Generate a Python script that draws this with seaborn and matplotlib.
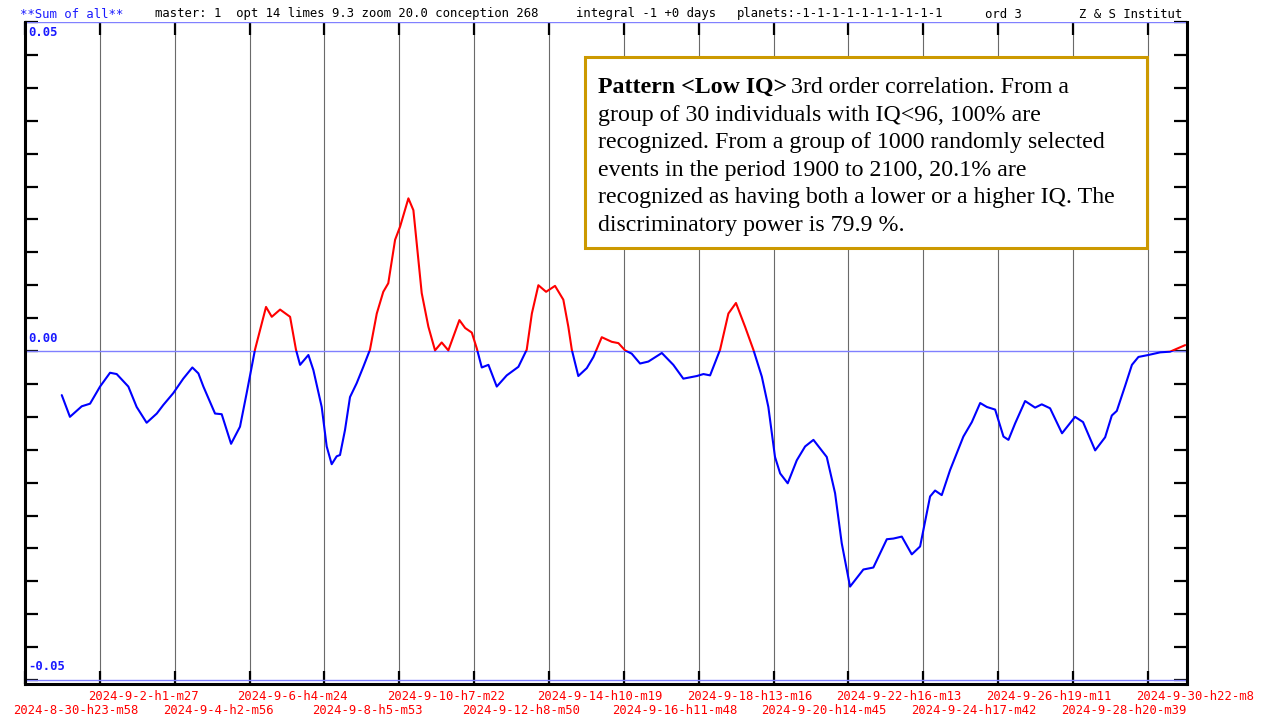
import seaborn as sns
import matplotlib.pyplot as plt
from matplotlib.patches import Rectangle
from datetime import datetime
import numpy as np

# curve: hours after 2024-8-30 23:58, value
hours = [24.3, 29.7, 37.5, 43.0, 49.6, 56.2, 60.6, 68.3, 73.8, 80.4,
         87.1, 91.4, 98.0, 104.6, 110.6, 114.6, 117.9, 125.6, 130.0, 133.3,
         136.2, 142.1, 146.5, 152.0, 159.3, 163.1, 168.6, 175.2, 179.1, 181.8,
         187.3, 190.6, 196.1, 199.4, 202.7, 206.0, 208.2, 211.5, 214.8, 219.2,
         223.6, 228.0, 232.5, 236.8, 240.1, 244.6, 247.9, 253.4, 256.7, 262.2,
         266.6, 271.0, 275.4, 279.8, 283.1, 287.1, 290.9, 295.3, 298.6, 301.9,
         306.3, 311.8, 318.4, 326.1, 331.6, 335.0, 339.3, 344.4, 350.3, 355.8,
         359.1, 361.4, 365.7, 371.3, 375.7, 381.2, 387.8, 392.2, 396.6, 401.0,
         406.5, 412.0, 420.9, 428.5, 435.1, 444.0, 448.4, 452.8, 459.4, 464.9,
         469.9, 475.9, 481.4, 487.0, 491.3, 495.7, 499.1, 504.1, 510.1, 515.6,
         521.1, 529.9, 535.4, 539.8, 545.3, 554.1, 560.7, 569.6, 573.9, 579.5,
         586.1, 591.6, 598.2, 601.5, 605.9, 611.4, 620.2, 625.8, 631.3, 635.7,
         641.2, 646.7, 650.0, 654.4, 661.0, 667.6, 672.0, 677.5, 685.4, 694.0,
         699.3, 707.3, 713.9, 718.3, 721.6, 727.1, 731.6, 735.9, 742.5, 750.3,
         756.8, 766.8]
values = [-0.0067, -0.0100, -0.0084, -0.0080, -0.0054, -0.0033, -0.0035, -0.0054, -0.0085, -0.0109,
          -0.0095, -0.0082, -0.0064, -0.0042, -0.0025, -0.0034, -0.0054, -0.0095, -0.0096, -0.0120,
          -0.0141, -0.0115, -0.0064, 0.0002, 0.0067, 0.0052, 0.0063, 0.0052, 0.0002, -0.0021,
          -0.0006, -0.0029, -0.0085, -0.0145, -0.0172, -0.0160, -0.0158, -0.0120, -0.0070, -0.0049,
          -0.0024, 0.0002, 0.0057, 0.0090, 0.0103, 0.0169, 0.0189, 0.0232, 0.0214, 0.0088,
          0.0037, 0.0001, 0.0013, 0.0001, 0.0022, 0.0047, 0.0035, 0.0028, 0.0004, -0.0025,
          -0.0021, -0.0054, -0.0037, -0.0024, 0.0002, 0.0057, 0.0100, 0.0090, 0.0099, 0.0078,
          0.0037, 0.0002, -0.0038, -0.0026, -0.0009, 0.0021, 0.0014, 0.0012, 0.0001, -0.0004,
          -0.0019, -0.0016, -0.0003, -0.0021, -0.0042, -0.0038, -0.0035, -0.0037, 0.0002, 0.0057,
          0.0073, 0.0037, 0.0002, -0.0039, -0.0085, -0.0161, -0.0186, -0.0201, -0.0166, -0.0145,
          -0.0135, -0.0161, -0.0216, -0.0292, -0.0358, -0.0332, -0.0329, -0.0286, -0.0285, -0.0282,
          -0.0309, -0.0297, -0.0221, -0.0212, -0.0219, -0.0181, -0.0130, -0.0108, -0.0079, -0.0085,
          -0.0089, -0.0130, -0.0135, -0.0110, -0.0076, -0.0086, -0.0081, -0.0087, -0.0125, -0.0100,
          -0.0108, -0.0151, -0.0131, -0.0098, -0.0091, -0.0053, -0.0021, -0.0009, -0.0006, -0.0002,
          -0.0001, 0.0009]

tick_labels = ['2024-8-30-h23-m58', '2024-9-2-h1-m27', '2024-9-4-h2-m56', '2024-9-6-h4-m24',
               '2024-9-8-h5-m53', '2024-9-10-h7-m22', '2024-9-12-h8-m50', '2024-9-14-h10-m19',
               '2024-9-16-h11-m48', '2024-9-18-h13-m16', '2024-9-20-h14-m45', '2024-9-22-h16-m13',
               '2024-9-24-h17-m42', '2024-9-26-h19-m11', '2024-9-28-h20-m39', '2024-9-30-h22-m8']

header = [(20, '**Sum of all**', '#1a1aff'),
          (155, 'master: 1  opt 14 limes 9.3 zoom 20.0 conception 268', 'black'),
          (576, 'integral -1 +0 days', 'black'),
          (737, 'planets:-1-1-1-1-1-1-1-1-1-1', 'black'),
          (985, 'ord 3', 'black'),
          (1079, 'Z & S Institut', 'black')]

note_bold = 'Pattern <Low IQ>'
note_lines = ['3rd order correlation. From a',
              'group of 30 individuals with IQ<96, 100% are',
              'recognized. From a group of 1000 randomly selected',
              'events in the period 1900 to 2100, 20.1% are',
              'recognized as having both a lower or a higher IQ. The',
              'discriminatory power is 79.9 %.']


def to_hours(lbl):
    y, m, d, h, mi = lbl.split('-')
    t = datetime(int(y), int(m), int(d), int(h[1:]), int(mi[1:]))
    return (t - datetime(2024, 8, 30, 23, 58)).total_seconds() / 3600.0


tick_pos = [to_hours(l) for l in tick_labels]

sns.set_style('white')
mono = 'DejaVu Sans Mono'
W, H = 1262, 720

fig = plt.figure(figsize=(W / 100, H / 100), dpi=100)
ax = fig.add_axes([25 / W, 36 / H, 1162 / W, 662 / H])

sns.lineplot(x=hours, y=values, ax=ax, color='#ff0000', lw=1.5, sort=False, estimator=None, zorder=3)
sns.lineplot(x=hours, y=values, ax=ax, color='#0000ff', lw=1.5, sort=False, estimator=None, zorder=3)
red, blue = ax.lines[0], ax.lines[1]
red.set_clip_path(Rectangle((-100, 0), 1000, 1, transform=ax.transData))
blue.set_clip_path(Rectangle((-100, -1), 1000, 1, transform=ax.transData))
for ln in (red, blue):
    ln.set_solid_joinstyle('round')

ax.set_xlim(0, 768)
ax.set_ylim(-0.0506, 0.05)

for yv in [0.05, 0.0, -0.05]:
    ax.axhline(yv, color='#8080ff', lw=1, zorder=2)

ax.set_xticks(tick_pos)
ax.set_yticks(np.linspace(-0.05, 0.05, 21))
ax.tick_params(axis='x', direction='in', length=9.5, width=1.6, top=True, bottom=True,
               labelbottom=False, color='black')
ax.tick_params(axis='y', direction='in', length=9.5, width=1.6, left=True, right=True,
               labelleft=False, color='black')
ax.grid(axis='x', color='#6a6a6a', lw=0.8, zorder=1)
ax.set_axisbelow(True)

for side in ['left', 'right', 'bottom']:
    ax.spines[side].set_color('black')
    ax.spines[side].set_linewidth(2.2)
ax.spines['top'].set_visible(False)

# y labels
for yv, lbl, dy in [(0.05, '0.05', -11), (0.0, '0.00', 13), (-0.05, '-0.05', 14)]:
    ax.annotate(lbl, xy=(0, yv), xycoords=('axes fraction', 'data'), xytext=(3, dy),
                textcoords='offset pixels', ha='left', va='center', color='#1a1aff',
                family=mono, fontsize=8.8, fontweight='bold')

# date labels, two rows
for i, (p, lbl) in enumerate(zip(tick_pos, tick_labels)):
    dy = -26 if i % 2 == 0 else -13
    ax.annotate(lbl, xy=(p, 0), xycoords=('data', 'axes fraction'), xytext=(-12, dy),
                textcoords='offset pixels', ha='left', va='center', color='#ff0000',
                family=mono, fontsize=8.8, annotation_clip=False)

for x, s, c in header:
    fig.text(x / W, 1 - 14 / H, s, color=c, family=mono, fontsize=8.8, va='center', ha='left')

# note box
ax.add_patch(Rectangle((585 / W, 1 - 248 / H), 562 / W, 191 / H, transform=fig.transFigure,
                       fc='white', ec='#cc9900', lw=2.2, clip_on=False, zorder=5))
serif = 'Liberation Serif'
fs = 17.2
t1 = ax.text(598 / W, 1 - 93 / H, note_bold, transform=fig.transFigure, family=serif,
             fontsize=fs, fontweight='bold', va='baseline', ha='left', zorder=6, color='black')
ax.annotate(note_lines[0], xy=(1, 0), xycoords=t1, xytext=(4, 0), textcoords='offset pixels',
            family=serif, fontsize=fs, va='bottom', ha='left', zorder=6, annotation_clip=False,
            color='black')
for i, s in enumerate(note_lines[1:]):
    ax.text(598 / W, 1 - (93 + 27.6 * (i + 1)) / H, s, transform=fig.transFigure, family=serif,
            fontsize=fs, va='baseline', ha='left', zorder=6, color='black')

fig.savefig('out.png', dpi=100)
